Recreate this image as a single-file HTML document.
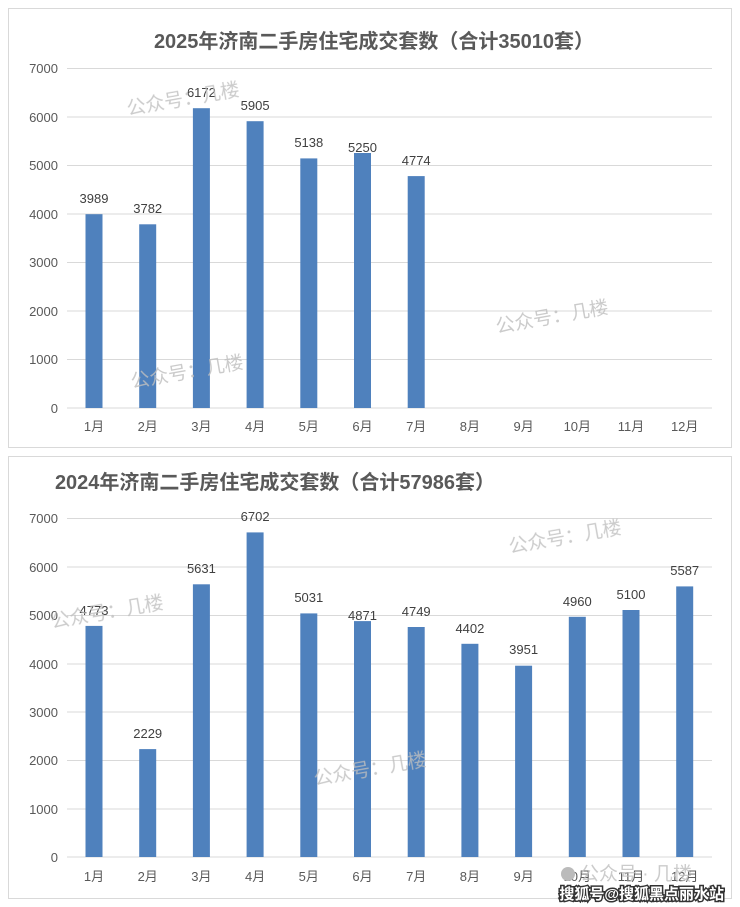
<!DOCTYPE html>
<html><head><meta charset="utf-8"><style>
body{margin:0;background:#fff;}
svg{display:block;font-family:"Liberation Sans","Noto Sans CJK SC",sans-serif;}
</style></head><body>
<svg width="740" height="907" viewBox="0 0 740 907">
<rect x="8.5" y="8.5" width="723" height="439" fill="#fff" stroke="#d9d9d9"/>
<rect x="8.5" y="456.5" width="723" height="442" fill="#fff" stroke="#d9d9d9"/>
<text x="374" y="48" text-anchor="middle" font-size="20" font-weight="bold" fill="#595959">2025年济南二手房住宅成交套数（合计35010套）</text>
<text x="275" y="489" text-anchor="middle" font-size="20" font-weight="bold" fill="#595959">2024年济南二手房住宅成交套数（合计57986套）</text>
<g stroke="#d9d9d9" stroke-width="1">
<line x1="67" x2="712" y1="68.5" y2="68.5"/><line x1="67" x2="712" y1="117" y2="117"/><line x1="67" x2="712" y1="165.5" y2="165.5"/><line x1="67" x2="712" y1="214" y2="214"/><line x1="67" x2="712" y1="262.5" y2="262.5"/><line x1="67" x2="712" y1="311" y2="311"/><line x1="67" x2="712" y1="359.5" y2="359.5"/><line x1="67" x2="712" y1="408" y2="408"/>
<line x1="67" x2="712" y1="518.5" y2="518.5"/><line x1="67" x2="712" y1="567" y2="567"/><line x1="67" x2="712" y1="615.5" y2="615.5"/><line x1="67" x2="712" y1="664" y2="664"/><line x1="67" x2="712" y1="712" y2="712"/><line x1="67" x2="712" y1="760.5" y2="760.5"/><line x1="67" x2="712" y1="809" y2="809"/><line x1="67" x2="712" y1="857" y2="857"/>
</g>
<g font-size="13" fill="#595959" text-anchor="end">
<text x="58" y="73">7000</text><text x="58" y="122">6000</text><text x="58" y="170">5000</text><text x="58" y="219">4000</text><text x="58" y="267">3000</text><text x="58" y="316">2000</text><text x="58" y="364">1000</text><text x="58" y="413">0</text>
<text x="58" y="523">7000</text><text x="58" y="572">6000</text><text x="58" y="620">5000</text><text x="58" y="669">4000</text><text x="58" y="717">3000</text><text x="58" y="765">2000</text><text x="58" y="814">1000</text><text x="58" y="862">0</text>
</g>
<g fill="#4f81bd">
<rect x="85.5" y="214.2" width="17" height="193.8"/><rect x="139.2" y="224.3" width="17" height="183.7"/><rect x="192.9" y="108.2" width="17" height="299.8"/><rect x="246.6" y="121.2" width="17" height="286.8"/><rect x="300.3" y="158.4" width="17" height="249.6"/><rect x="354" y="153" width="17" height="255"/><rect x="407.7" y="176.1" width="17" height="231.9"/>
<rect x="85.5" y="625.9" width="17" height="231.1"/><rect x="139.2" y="749.1" width="17" height="107.9"/><rect x="192.9" y="584.3" width="17" height="272.7"/><rect x="246.6" y="532.4" width="17" height="324.6"/><rect x="300.3" y="613.4" width="17" height="243.6"/><rect x="354" y="621.1" width="17" height="235.9"/><rect x="407.7" y="627" width="17" height="230"/><rect x="461.4" y="643.8" width="17" height="213.2"/><rect x="515.1" y="665.7" width="17" height="191.3"/><rect x="568.8" y="616.8" width="17" height="240.2"/><rect x="622.5" y="610" width="17" height="247"/><rect x="676.2" y="586.4" width="17" height="270.6"/>
</g>
<g font-size="13" fill="#404040" text-anchor="middle">
<text x="94" y="203">3989</text><text x="147.7" y="213">3782</text><text x="201.4" y="97">6172</text><text x="255.1" y="110">5905</text><text x="308.8" y="147">5138</text><text x="362.5" y="152">5250</text><text x="416.2" y="165">4774</text>
<text x="94" y="615">4773</text><text x="147.7" y="738">2229</text><text x="201.4" y="573">5631</text><text x="255.1" y="521">6702</text><text x="308.8" y="602">5031</text><text x="362.5" y="620">4871</text><text x="416.2" y="616">4749</text><text x="469.9" y="633">4402</text><text x="523.6" y="654">3951</text><text x="577.3" y="606">4960</text><text x="631" y="599">5100</text><text x="684.7" y="575">5587</text>
</g>
<g font-size="13" fill="#595959" text-anchor="middle">
<text x="94" y="431">1月</text><text x="147.7" y="431">2月</text><text x="201.4" y="431">3月</text><text x="255.1" y="431">4月</text><text x="308.8" y="431">5月</text><text x="362.5" y="431">6月</text><text x="416.2" y="431">7月</text><text x="469.9" y="431">8月</text><text x="523.6" y="431">9月</text><text x="577.3" y="431">10月</text><text x="631" y="431">11月</text><text x="684.7" y="431">12月</text>
<text x="94" y="881">1月</text><text x="147.7" y="881">2月</text><text x="201.4" y="881">3月</text><text x="255.1" y="881">4月</text><text x="308.8" y="881">5月</text><text x="362.5" y="881">6月</text><text x="416.2" y="881">7月</text><text x="469.9" y="881">8月</text><text x="523.6" y="881">9月</text><text x="577.3" y="881">10月</text><text x="631" y="881">11月</text><text x="684.7" y="881">12月</text>
</g>
<g font-size="19" fill="#bfbfbf" opacity="0.8">
<text x="128" y="115" transform="rotate(-10 128 115)">公众号：几楼</text>
<text x="497" y="333" transform="rotate(-10 497 333)">公众号：几楼</text>
<text x="132" y="388" transform="rotate(-10 132 388)">公众号：几楼</text>
<text x="510" y="553" transform="rotate(-10 510 553)">公众号：几楼</text>
<text x="52" y="628" transform="rotate(-10 52 628)">公众号：几楼</text>
<text x="315" y="785" transform="rotate(-10 315 785)">公众号：几楼</text>
<text x="580" y="880">公众号 · 几楼</text>
</g>
<circle cx="568" cy="874" r="7" fill="#bbb"/>
<text x="724" y="899" text-anchor="end" font-size="15" font-weight="bold" fill="#fff" stroke="#333" stroke-width="3" paint-order="stroke">搜狐号@搜狐黑点丽水站</text>
</svg>
</body></html>
